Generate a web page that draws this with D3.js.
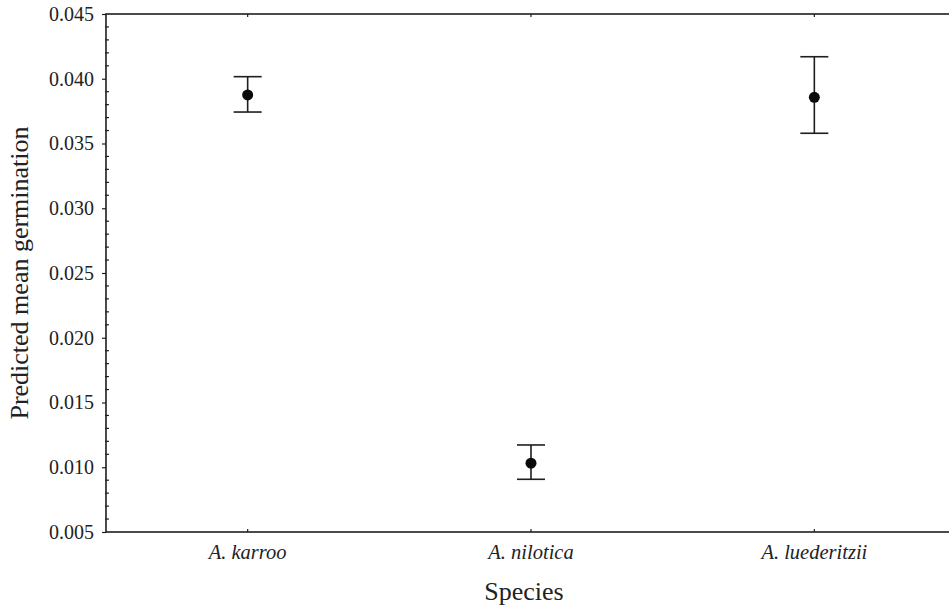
<!DOCTYPE html>
<html>
<head>
<meta charset="utf-8">
<script src="https://cdn.jsdelivr.net/npm/d3@7"></script>
<style>
  body { margin: 0; background: #fff; }
  svg text { font-family: 'Liberation Serif', 'Times New Roman', serif; fill: #222; }
</style>
</head>
<body>
<svg width="949" height="610"></svg>
<script>
// Chart data
let species = ['A. karroo', 'A. nilotica', 'A. luederitzii'];
let means = [0.03875, 0.01031, 0.03857];
let upper = [0.04016, 0.01172, 0.04170];
let lower = [0.03743, 0.00907, 0.03579];
let yTicks = [0.005, 0.010, 0.015, 0.020, 0.025, 0.030, 0.035, 0.040, 0.045];

let svg = d3.select('svg');

// Plot area (right edge runs past the window, like the scan)
let plotLeft = 106, plotRight = 956, plotTop = 14, plotBottom = 532;

let x = d3.scalePoint()
  .domain(species)
  .range([plotLeft, plotRight])
  .padding(0.5);

let y = d3.scaleLinear()
  .domain([0.005, 0.045])
  .range([plotBottom, plotTop]);

let ink = '#1e1e1e';

// Minor ticks every 0.001
let minor = d3.range(0.005, 0.0451, 0.001).filter(v => Math.round(v * 1000) % 5 !== 0);
svg.append('g')
  .selectAll('line')
  .data(minor)
  .enter().append('line')
    .attr('x1', plotLeft - 1)
    .attr('x2', plotLeft + 3)
    .attr('y1', d => y(d))
    .attr('y2', d => y(d))
    .attr('stroke', ink)
    .attr('stroke-width', 1.2);

// Y axis
let yAxis = svg.append('g')
  .attr('transform', 'translate(' + plotLeft + ',0)')
  .call(d3.axisLeft(y).tickValues(yTicks).tickFormat(d3.format('.3f')).tickSize(4).tickPadding(8));
yAxis.select('.domain').remove();
yAxis.selectAll('line').attr('stroke', ink).attr('stroke-width', 1.2);
yAxis.selectAll('text').attr('font-size', 20).style('font-family', "'Liberation Serif', serif").attr('fill', '#222');

// Frame
svg.append('rect')
  .attr('x', plotLeft)
  .attr('y', plotTop)
  .attr('width', plotRight - plotLeft)
  .attr('height', plotBottom - plotTop)
  .attr('fill', 'none')
  .attr('stroke', ink)
  .attr('stroke-width', 1.6);

// Category ticks (inside, bottom and top)
svg.append('g')
  .selectAll('line')
  .data(species)
  .enter().append('line')
    .attr('x1', d => x(d)).attr('x2', d => x(d))
    .attr('y1', plotBottom).attr('y2', plotBottom - 3)
    .attr('stroke', ink).attr('stroke-width', 1.2);
svg.append('g')
  .selectAll('line')
  .data(species)
  .enter().append('line')
    .attr('x1', d => x(d)).attr('x2', d => x(d))
    .attr('y1', plotTop).attr('y2', plotTop + 3)
    .attr('stroke', ink).attr('stroke-width', 1.2);

// Category labels
svg.append('g')
  .selectAll('text')
  .data(species)
  .enter().append('text')
    .attr('x', d => x(d))
    .attr('y', plotBottom + 27)
    .attr('text-anchor', 'middle')
    .attr('font-size', 20.5)
    .attr('font-style', 'italic')
    .text(d => d);

// Error bars
let bars = svg.append('g')
  .selectAll('g')
  .data(species)
  .enter().append('g');

bars.append('line')
  .attr('x1', d => x(d)).attr('x2', d => x(d))
  .attr('y1', (d, i) => y(upper[i]))
  .attr('y2', (d, i) => y(lower[i]))
  .attr('stroke', ink).attr('stroke-width', 1.6);

bars.append('line')
  .attr('x1', d => x(d) - 14).attr('x2', d => x(d) + 14)
  .attr('y1', (d, i) => y(upper[i]))
  .attr('y2', (d, i) => y(upper[i]))
  .attr('stroke', ink).attr('stroke-width', 1.6);

bars.append('line')
  .attr('x1', d => x(d) - 14).attr('x2', d => x(d) + 14)
  .attr('y1', (d, i) => y(lower[i]))
  .attr('y2', (d, i) => y(lower[i]))
  .attr('stroke', ink).attr('stroke-width', 1.6);

bars.append('circle')
  .attr('cx', d => x(d))
  .attr('cy', (d, i) => y(means[i]))
  .attr('r', 5.5)
  .attr('fill', '#0a0a0a');

// Axis titles
svg.append('text')
  .attr('x', (plotLeft + plotRight) / 2 - 7)
  .attr('y', 600)
  .attr('text-anchor', 'middle')
  .attr('font-size', 26)
  .text('Species');

svg.append('text')
  .attr('transform', 'translate(28,' + ((plotTop + plotBottom) / 2) + ') rotate(-90)')
  .attr('text-anchor', 'middle')
  .attr('font-size', 26)
  .text('Predicted mean germination');
</script>
</body>
</html>
